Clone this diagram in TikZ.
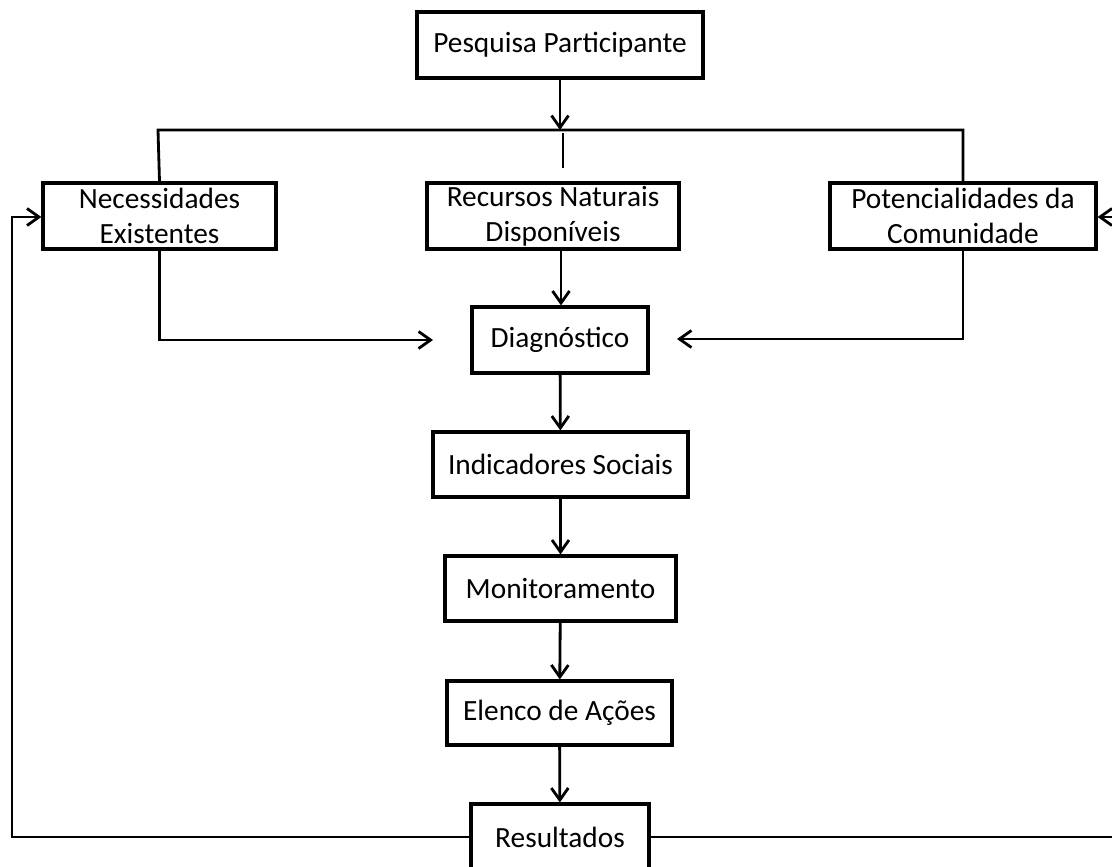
\documentclass[tikz,border=0pt]{standalone}
\usepackage{fontspec}
\setmainfont{Carlito}
\usepackage{tikz}
\usetikzlibrary{arrows.meta}

\begin{document}
\begin{tikzpicture}[x=0.02cm, y=-0.02cm, anchor=center,
        box/.style={draw, line width=1.8pt, inner sep=0pt, align=center,
            font=\fontsize{16.7pt}{20pt}\selectfont},
        seta/.style={->, line width=1.6pt, >={Straight Barb[length=2.4mm, width=3.4mm, line width=1.6pt]}},
        linha/.style={line width=1.6pt}]
                            \useasboundingbox (0, 0) rectangle (1112, 866);
                            \clip (0, 0) rectangle (1112, 866);

                            \node (pesq) at (560, 45) [box, minimum width=5.72cm, minimum height=1.32cm] {Pesquisa Participante};
                            \node (nec) at (159.5, 216) [box, minimum width=4.66cm, minimum height=1.32cm] {Necessidades\\Existentes};
                            \node (rec) at (553, 216) [box, minimum width=5.04cm, minimum height=1.32cm] {Recursos Naturais\\Disponíveis};
                            \node (pot) at (963, 216) [box, minimum width=5.32cm, minimum height=1.32cm] {Potencialidades da\\Comunidade};
                            \node (diag) at (560, 340) [box, minimum width=3.52cm, minimum height=1.32cm] {Diagnóstico};
                            \node (ind) at (560.5, 464.5) [box, minimum width=5.1cm, minimum height=1.3cm] {Indicadores Sociais};
                            \node (mon) at (560.5, 588.5) [box, minimum width=4.62cm, minimum height=1.3cm] {Monitoramento};
                            \node (elen) at (559.5, 713) [box, minimum width=4.5cm, minimum height=1.28cm] {Elenco de Ações};
                            \node (res) at (560, 837) [box, minimum width=3.56cm, minimum height=1.32cm] {Resultados};

                            \coordinate (jun) at (560, 130);
                            \coordinate (ramoE) at (158, 130);
                            \coordinate (ramoD) at (963, 130);
                            \coordinate (toco1) at (563, 133);
                            \coordinate (toco2) at (563, 168);
                            \coordinate (chegaE) at (433, 340);
                            \coordinate (chegaD) at (677, 339);

                            \draw[seta] (pesq) to (jun);
                            \draw[linha] (nec.north) to (ramoE) to (ramoD) to (pot.north);
                            \draw[linha] (toco1) to (toco2);
                            \draw[seta] (nec.south) |- (chegaE);
                            \draw[seta] (rec.south -| diag.north) ++(1, 0) to (diag.north -| 561, 0);
                            \draw[seta] (pot.south) |- (chegaD);
                            \draw[seta] (diag) to (ind);
                            \draw[seta] (ind) to (mon);
                            \draw[seta] (mon) to (elen);
                            \draw[seta] (elen) to (res);
                            \draw[seta] (res.west) to (12, 837) to (12, 217) to (nec.west |- 0, 217);
                            \draw[seta] (res.east) to (1125, 837) to (1125, 217) to (pot.east |- 0, 217);
                        \end{tikzpicture}
\end{document}
